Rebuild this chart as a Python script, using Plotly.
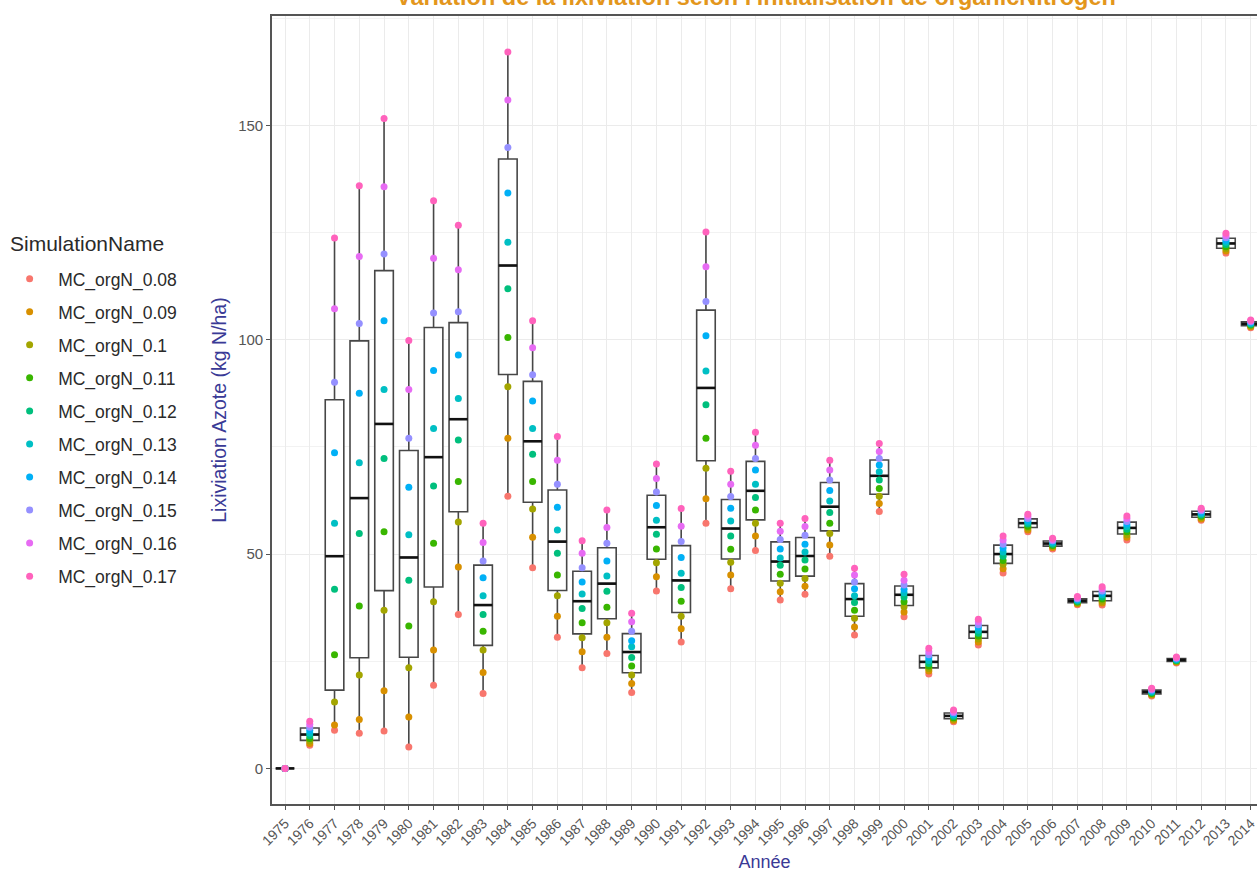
import numpy as np
import plotly.graph_objects as go

years = list(range(1975, 2015))

series_names = ["MC_orgN_0.08", "MC_orgN_0.09", "MC_orgN_0.1", "MC_orgN_0.11", "MC_orgN_0.12",
                "MC_orgN_0.13", "MC_orgN_0.14", "MC_orgN_0.15", "MC_orgN_0.16", "MC_orgN_0.17"]
series_colors = ["#F8766D", "#D89000", "#A3A500", "#39B600", "#00BF7D",
                 "#00BFC4", "#00B0F6", "#9590FF", "#E76BF3", "#FF62BC"]

s008 = [0, 5.4, 8.9, 8.2, 8.7, 5.0, 19.4, 35.9, 17.5, 63.5, 46.8, 30.6, 23.5, 26.8, 17.7, 41.4, 29.5, 57.2, 41.9, 50.8,
        39.3, 40.6, 49.5, 31.1, 59.9, 35.4, 22.0, 10.9, 28.8, 45.6, 55.2, 51.2, 38.2, 38.1, 53.3, 16.9, 24.6, 57.9, 120.2, 102.8]
s009 = [0, 5.8, 10.1, 11.4, 18.1, 12.0, 27.6, 47.0, 22.4, 77.0, 53.9, 35.5, 27.2, 30.6, 19.8, 44.7, 32.6, 62.9, 45.1, 54.2,
        41.2, 42.5, 52.1, 33.0, 61.8, 36.5, 22.7, 11.2, 29.5, 46.6, 55.6, 51.5, 38.4, 38.6, 53.9, 17.1, 24.8, 58.2, 120.7, 103.0]
s010 = [0, 6.4, 15.5, 21.8, 36.9, 23.5, 38.9, 57.5, 27.6, 89.0, 60.5, 40.3, 30.5, 34.0, 21.8, 48.0, 35.5, 70.0, 48.1, 57.2,
        43.2, 44.3, 54.8, 35.0, 63.5, 37.7, 23.3, 11.5, 30.2, 47.6, 56.1, 51.8, 38.6, 39.0, 54.5, 17.3, 24.9, 58.5, 121.2, 103.2]
s011 = [0, 7.0, 26.5, 37.9, 55.2, 33.2, 52.5, 66.9, 32.0, 100.5, 66.9, 45.1, 34.0, 37.6, 23.9, 51.2, 39.0, 77.0, 51.1, 60.3,
        45.3, 46.5, 57.2, 36.9, 65.3, 38.9, 23.9, 11.8, 30.9, 48.5, 56.5, 52.0, 38.8, 39.5, 55.2, 17.5, 25.1, 58.8, 121.7, 103.4]
s012 = [0, 7.6, 41.8, 54.8, 72.3, 43.9, 65.9, 76.6, 35.9, 111.9, 73.3, 50.2, 37.3, 41.3, 25.9, 54.6, 42.2, 84.8, 54.2, 63.2,
        47.4, 48.6, 59.7, 38.7, 67.3, 40.0, 24.5, 12.1, 31.5, 49.5, 57.0, 52.3, 39.0, 40.0, 55.8, 17.7, 25.2, 59.1, 122.2, 103.6]
s013 = [0, 8.2, 57.2, 71.3, 88.4, 54.5, 79.3, 86.3, 40.3, 122.7, 79.3, 55.6, 40.7, 44.9, 28.4, 57.9, 45.5, 92.7, 57.7, 66.3,
        49.1, 50.5, 62.4, 40.3, 69.2, 41.0, 25.2, 12.4, 32.2, 50.5, 57.4, 52.6, 39.2, 40.5, 56.4, 17.9, 25.4, 59.4, 122.7, 103.8]
s014 = [0, 8.9, 73.6, 87.5, 104.4, 65.6, 92.8, 96.4, 44.5, 134.2, 85.7, 60.9, 43.5, 48.4, 29.8, 61.3, 49.2, 100.9, 60.7, 69.6,
        51.2, 52.3, 64.8, 41.9, 70.8, 41.8, 25.9, 12.7, 32.9, 51.4, 57.9, 52.9, 39.4, 40.9, 57.0, 18.1, 25.5, 59.7, 123.2, 104.0]
s015 = [0, 9.6, 90.1, 103.8, 120.0, 77.0, 106.2, 106.5, 48.4, 144.8, 91.8, 66.3, 46.8, 52.5, 32.0, 64.5, 52.9, 108.9, 63.4, 72.3,
        53.4, 54.4, 67.3, 43.5, 72.3, 42.8, 26.5, 13.0, 33.5, 52.3, 58.3, 53.1, 39.6, 41.4, 57.6, 18.3, 25.7, 60.1, 123.8, 104.2]
s016 = [0, 10.3, 107.2, 119.4, 135.7, 88.4, 119.0, 116.3, 52.7, 155.9, 98.1, 71.9, 50.2, 56.2, 34.2, 67.6, 56.5, 117.0, 66.3, 75.4,
        55.3, 56.4, 69.6, 45.1, 73.9, 43.9, 27.2, 13.3, 34.2, 53.3, 58.8, 53.4, 39.8, 41.9, 58.3, 18.5, 25.8, 60.4, 124.3, 104.4]
s017 = [0, 11.0, 123.7, 135.9, 151.6, 99.8, 132.4, 126.7, 57.2, 167.1, 104.4, 77.4, 53.1, 60.3, 36.2, 71.0, 60.6, 125.1, 69.3, 78.4,
        57.2, 58.3, 71.9, 46.7, 75.8, 45.3, 28.0, 13.6, 34.8, 54.2, 59.3, 53.7, 40.1, 42.4, 58.9, 18.7, 26.0, 60.7, 124.8, 104.6]

all_series = [s008, s009, s010, s011, s012, s013, s014, s015, s016, s017]

title_text = "Variation de la lixiviation selon l'initialisation de organicNitrogen"
legend_title = "SimulationName"
x_title = "Année"
y_title = "Lixiviation Azote (kg N/ha)"
font_family = "Liberation Sans, Arial, sans-serif"
BOX_W = 0.75

# ggplot-style box statistics (type 7 quantiles, 1.5 IQR whiskers)
mat = np.array(all_series)
q1s, meds, q3s, lows, highs = [], [], [], [], []
for j in range(mat.shape[1]):
    v = np.sort(mat[:, j])
    q1, med, q3 = np.percentile(v, [25, 50, 75])
    iqr = q3 - q1
    lo = v[v >= q1 - 1.5 * iqr].min()
    hi = v[v <= q3 + 1.5 * iqr].max()
    q1s.append(q1); meds.append(med); q3s.append(q3); lows.append(lo); highs.append(hi)

fig = go.Figure()

fig.add_trace(go.Box(
    x=years, q1=q1s, median=meds, q3=q3s, lowerfence=lows, upperfence=highs,
    width=BOX_W, whiskerwidth=0, boxpoints=False,
    fillcolor="white", line=dict(color="#474747", width=1.6),
    showlegend=False, hoverinfo="skip",
))

mx, my = [], []
for yr, m in zip(years, meds):
    mx += [yr - BOX_W / 2, yr + BOX_W / 2, None]
    my += [m, m, None]
fig.add_trace(go.Scatter(x=mx, y=my, mode="lines", line=dict(color="#111111", width=2.6),
                         showlegend=False, hoverinfo="skip"))

for i, (name, col, vals) in enumerate(zip(series_names, series_colors, all_series)):
    fig.add_trace(go.Scatter(
        x=years, y=vals, mode="markers", name=name,
        marker=dict(color=col, size=7),
        legendgroup=f"g{i}",
    ))

fig.update_layout(
    width=1257, height=872,
    margin=dict(l=272, r=0, t=16, b=68, autoexpand=False),
    paper_bgcolor="white", plot_bgcolor="white",
    font=dict(family=font_family, color="#4D4D4D"),
    legend=dict(
        font=dict(size=17.5, color="#2a2a2a"),
        x=-0.275, xanchor="left", y=0.6893, yanchor="top",
        itemwidth=47,
        tracegroupgap=7.3, bgcolor="rgba(0,0,0,0)",
    ),
    showlegend=True,
    annotations=[
        dict(text=legend_title, xref="paper", yref="paper", x=-0.268, y=0.7107,
             xanchor="left", yanchor="middle", showarrow=False,
             font=dict(size=21, color="#2a2a2a", family=font_family)),
        dict(text=title_text, xref="paper", yref="paper", x=0.4914, y=1.0241,
             xanchor="center", yanchor="middle", showarrow=False,
             font=dict(size=23.5, color="#E3961C", family=font_family, weight="bold")),
    ],
)

fig.update_xaxes(
    range=[1974.475, 2014.254],
    tickmode="array", tickvals=years, ticktext=[str(y) for y in years],
    tickangle=-45, tickfont=dict(size=14, color="#555555"),
    ticklabeloverflow="allow",
    ticks="outside", ticklen=4, tickcolor="#555555", tickwidth=1,
    showgrid=True, gridcolor="#EBEBEB", gridwidth=1,
    showline=True, linecolor="#555555", linewidth=1.6, mirror=True,
    zeroline=False, automargin=False,
    title=dict(text=x_title, font=dict(size=18, color="#3A3A96"), standoff=12),
)
fig.update_yaxes(
    range=[-8.3, 175.5],
    tickmode="linear", tick0=0, dtick=50,
    tickfont=dict(size=15, color="#555555"),
    ticks="outside", ticklen=4, tickcolor="#555555", tickwidth=1,
    showgrid=True, gridcolor="#EBEBEB", gridwidth=1,
    minor=dict(dtick=25, tick0=0, showgrid=True, gridcolor="#F2F2F2", gridwidth=0.6),
    showline=True, linecolor="#555555", linewidth=1.6, mirror=False,
    zeroline=False, automargin=False,
    title=dict(text=y_title, font=dict(size=19.5, color="#3A3A96"), standoff=6),
)

fig.write_html("out.html", config={"displayModeBar": False},
               post_script="document.body.style.margin='0';")
